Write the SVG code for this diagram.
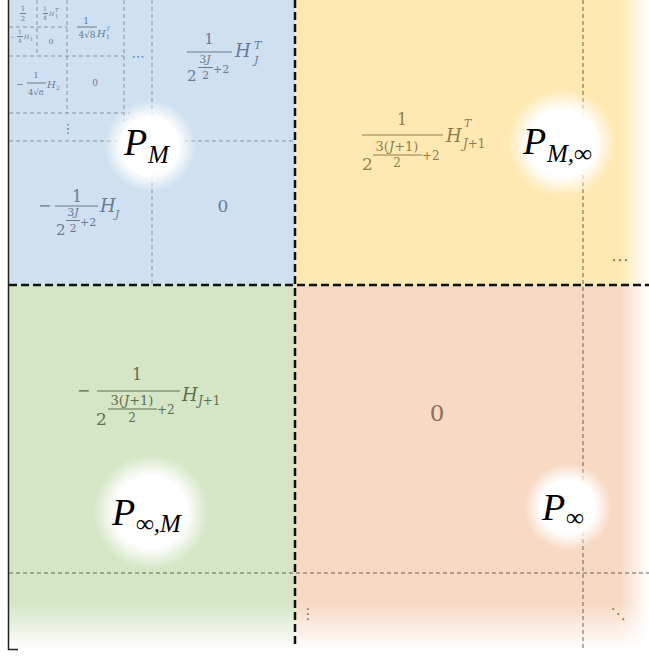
<svg xmlns="http://www.w3.org/2000/svg" width="649" height="657" viewBox="0 0 649 657">
<defs>
<radialGradient id="glow">
<stop offset="0" stop-color="#fff"/>
<stop offset="0.62" stop-color="#fff"/>
<stop offset="1" stop-color="#fff" stop-opacity="0"/>
</radialGradient>
<linearGradient id="fadeR" x1="0" x2="1" y1="0" y2="0">
<stop offset="0" stop-color="#fff" stop-opacity="0"/>
<stop offset="1" stop-color="#fff" stop-opacity="1"/>
</linearGradient>
<linearGradient id="fadeB" x1="0" x2="0" y1="0" y2="1">
<stop offset="0" stop-color="#fff" stop-opacity="0"/>
<stop offset="1" stop-color="#fff" stop-opacity="1"/>
</linearGradient>
</defs>
<style>
text{font-family:"DejaVu Serif","Liberation Serif",serif}
.i{font-style:italic}
.c{text-anchor:middle}
.d{font-family:"DejaVu Sans",sans-serif}
.tb{fill:#667b95}
.ty{fill:#8f7d4c}
.tg{fill:#5d6e4c}
.to{fill:#8c6e5c}
.bb{stroke:#667b95;stroke-width:1}
.by{stroke:#8f7d4c;stroke-width:1}
.bg{stroke:#5d6e4c;stroke-width:1}
.thinb{stroke:#8893a0;stroke-width:1;stroke-dasharray:4 3;fill:none}
.thinw{stroke:#6b5f50;stroke-width:1;stroke-dasharray:4 3;fill:none}
.thick{stroke:#111;stroke-width:2.5;stroke-dasharray:8 4;fill:none}
.lab{fill:#000;font-style:italic;font-family:"Liberation Serif","DejaVu Serif",serif}
</style>

<g id="backgrounds">
<rect x="9" y="0" width="286" height="285" fill="#cfe0f1"/>
<rect x="295" y="0" width="354" height="285" fill="#ffe9b3"/>
<rect x="9" y="285" width="286" height="365" fill="#d5e6c6"/>
<rect x="295" y="285" width="354" height="365" fill="#f8d9c3"/>
<rect x="620" y="0" width="29" height="650" fill="url(#fadeR)"/>
<rect x="9" y="603" width="640" height="47" fill="url(#fadeB)"/>
<rect x="9" y="650" width="640" height="7" fill="#fff"/>
</g>

<g id="grid-lines">
<path class="thinb" d="M37 0V56M9 27H67M67 0V113M9 56H124M124 0V122M9 113H130M152 0V285M9 141H295"/>
<path class="thinw" d="M583 0V650M9 573H649"/>
</g>

<g id="block-PM">
<circle cx="150" cy="146" r="46" fill="url(#glow)"/>
<g id="sub-blocks">
<text class="tb c" x="23" y="11" font-size="7">1</text>
<line class="bb" x1="20" x2="26" y1="13.5" y2="13.5" stroke-width="0.6"/>
<text class="tb c" x="23" y="21" font-size="7">2</text>
<text class="tb c" x="45" y="11" font-size="6">1</text>
<line class="bb" x1="43" x2="48" y1="13.5" y2="13.5" stroke-width="0.6"/>
<text class="tb c" x="45" y="20" font-size="6">4</text>
<text class="tb i" x="49" y="16" font-size="6">H</text>
<text class="tb i" x="55" y="12" font-size="5">T</text>
<text class="tb" x="55" y="18" font-size="5">1</text>
<text class="tb" x="10" y="39" font-size="6">−</text>
<text class="tb c" x="20" y="34" font-size="6">1</text>
<line class="bb" x1="17" x2="23" y1="36.5" y2="36.5" stroke-width="0.6"/>
<text class="tb c" x="20" y="43" font-size="6">4</text>
<text class="tb i" x="24" y="39" font-size="6">H</text>
<text class="tb" x="30" y="41" font-size="5">1</text>
<text class="tb c" x="51" y="44" font-size="8">0</text>
<text class="tb c" x="86" y="24" font-size="9">1</text>
<line class="bb" x1="77" x2="97" y1="27" y2="27" stroke-width="0.8"/>
<text class="tb c" x="87" y="38" font-size="9">4√8</text>
<text class="tb i" x="97" y="37" font-size="10">H</text>
<text class="tb i" x="106" y="31" font-size="6">T</text>
<text class="tb" x="106" y="39" font-size="6">1</text>
<text class="tb" x="16" y="87" font-size="9">−</text>
<text class="tb c" x="36" y="78" font-size="8">1</text>
<line class="bb" x1="27" x2="46" y1="83" y2="83" stroke-width="0.8"/>
<text class="tb c" x="36" y="95" font-size="8">4√8</text>
<text class="tb i" x="47" y="88" font-size="10">H</text>
<text class="tb" x="56" y="90" font-size="6">2</text>
<text class="tb c" x="95" y="86" font-size="9">0</text>
<text class="tb d c" x="138" y="61" font-size="13">⋯</text>
<text class="tb d c" x="68" y="133" font-size="13">⋮</text>
</g>
<g id="HJT">
<text class="tb c" x="209" y="44" font-size="15">1</text>
<line class="bb" x1="187" x2="232" y1="52" y2="52"/>
<text class="tb" x="187" y="81" font-size="15">2</text>
<text class="tb c" x="205" y="63" font-size="11">3<tspan class="i">J</tspan></text>
<line class="bb" x1="198" x2="213" y1="67.5" y2="67.5" stroke-width="0.8"/>
<text class="tb c" x="205.5" y="78.5" font-size="11">2</text>
<text class="tb" x="213" y="73" font-size="11">+2</text>
<text class="tb i" x="235" y="57" font-size="18">H</text>
<text class="tb i" x="254" y="49" font-size="11">T</text>
<text class="tb i" x="254" y="64" font-size="11">J</text>
</g>
<g id="HJ">
<text class="tb" x="38" y="211" font-size="16">−</text>
<text class="tb c" x="77" y="202" font-size="16">1</text>
<line class="bb" x1="55" x2="98" y1="206" y2="206"/>
<text class="tb" x="56" y="235" font-size="15">2</text>
<text class="tb c" x="73" y="216" font-size="11">3<tspan class="i">J</tspan></text>
<line class="bb" x1="66" x2="80" y1="220.5" y2="220.5" stroke-width="0.8"/>
<text class="tb c" x="73" y="232" font-size="11">2</text>
<text class="tb" x="80" y="226" font-size="11">+2</text>
<text class="tb i" x="100" y="212" font-size="18">H</text>
<text class="tb i" x="115" y="218" font-size="11">J</text>
</g>
<text class="tb c" x="223" y="212" font-size="17">0</text>
<text class="lab" x="124" y="155" font-size="38">P<tspan x="148" y="163" font-size="25">M</tspan></text>
</g>

<g id="block-PMinf">
<circle cx="562" cy="143" r="54" fill="url(#glow)"/>
<text class="ty c" x="402" y="125" font-size="16">1</text>
<line class="by" x1="362" x2="443" y1="135" y2="135"/>
<text class="ty" x="362" y="170" font-size="17">2</text>
<text class="ty c" x="397" y="151" font-size="13">3(<tspan class="i">J</tspan>+1)</text>
<line class="by" x1="373" x2="422" y1="155" y2="155" stroke-width="0.8"/>
<text class="ty c" x="397" y="167" font-size="12">2</text>
<text class="ty" x="422" y="160" font-size="12">+2</text>
<text class="ty i" x="446" y="142" font-size="18">H</text>
<text class="ty i" x="464" y="127" font-size="11">T</text>
<text class="ty" x="463" y="148" font-size="12"><tspan class="i">J</tspan>+1</text>
<text class="ty d c" x="620" y="266" font-size="18">⋯</text>
<text class="lab" x="523" y="154" font-size="38">P<tspan x="547" y="162" font-size="25">M,∞</tspan></text>
</g>

<g id="block-PinfM">
<circle cx="151" cy="512" r="58" fill="url(#glow)"/>
<text class="tg" x="77" y="396" font-size="16">−</text>
<text class="tg c" x="137" y="380" font-size="16">1</text>
<line class="bg" x1="97" x2="180" y1="391" y2="391"/>
<text class="tg" x="96" y="425" font-size="17">2</text>
<text class="tg c" x="132" y="405" font-size="13">3(<tspan class="i">J</tspan>+1)</text>
<line class="bg" x1="108" x2="157" y1="409" y2="409" stroke-width="0.8"/>
<text class="tg c" x="132" y="422" font-size="12">2</text>
<text class="tg" x="157" y="414" font-size="12">+2</text>
<text class="tg i" x="182" y="401" font-size="18">H</text>
<text class="tg" x="198" y="405" font-size="12"><tspan class="i">J</tspan>+1</text>
<text class="lab" x="112" y="525" font-size="38">P<tspan x="136" y="532" font-size="25">∞,M</tspan></text>
</g>

<g id="block-Pinf">
<circle cx="568" cy="507" r="44" fill="url(#glow)"/>
<text class="to c" x="437" y="421" font-size="23">0</text>
<text class="to d c" x="308" y="619" font-size="15">⋮</text>
<text class="to d c" x="618" y="619" font-size="15">⋱</text>
<text class="lab" x="542" y="520" font-size="38">P<tspan x="566" y="526" font-size="25">∞</tspan></text>
</g>

<g id="connectors">
<path class="thick" d="M295 0V648M9 285H649"/>
<path d="M8.5 0V649.5H18" stroke="#222" stroke-width="1.5" fill="none"/>
</g>
</svg>
